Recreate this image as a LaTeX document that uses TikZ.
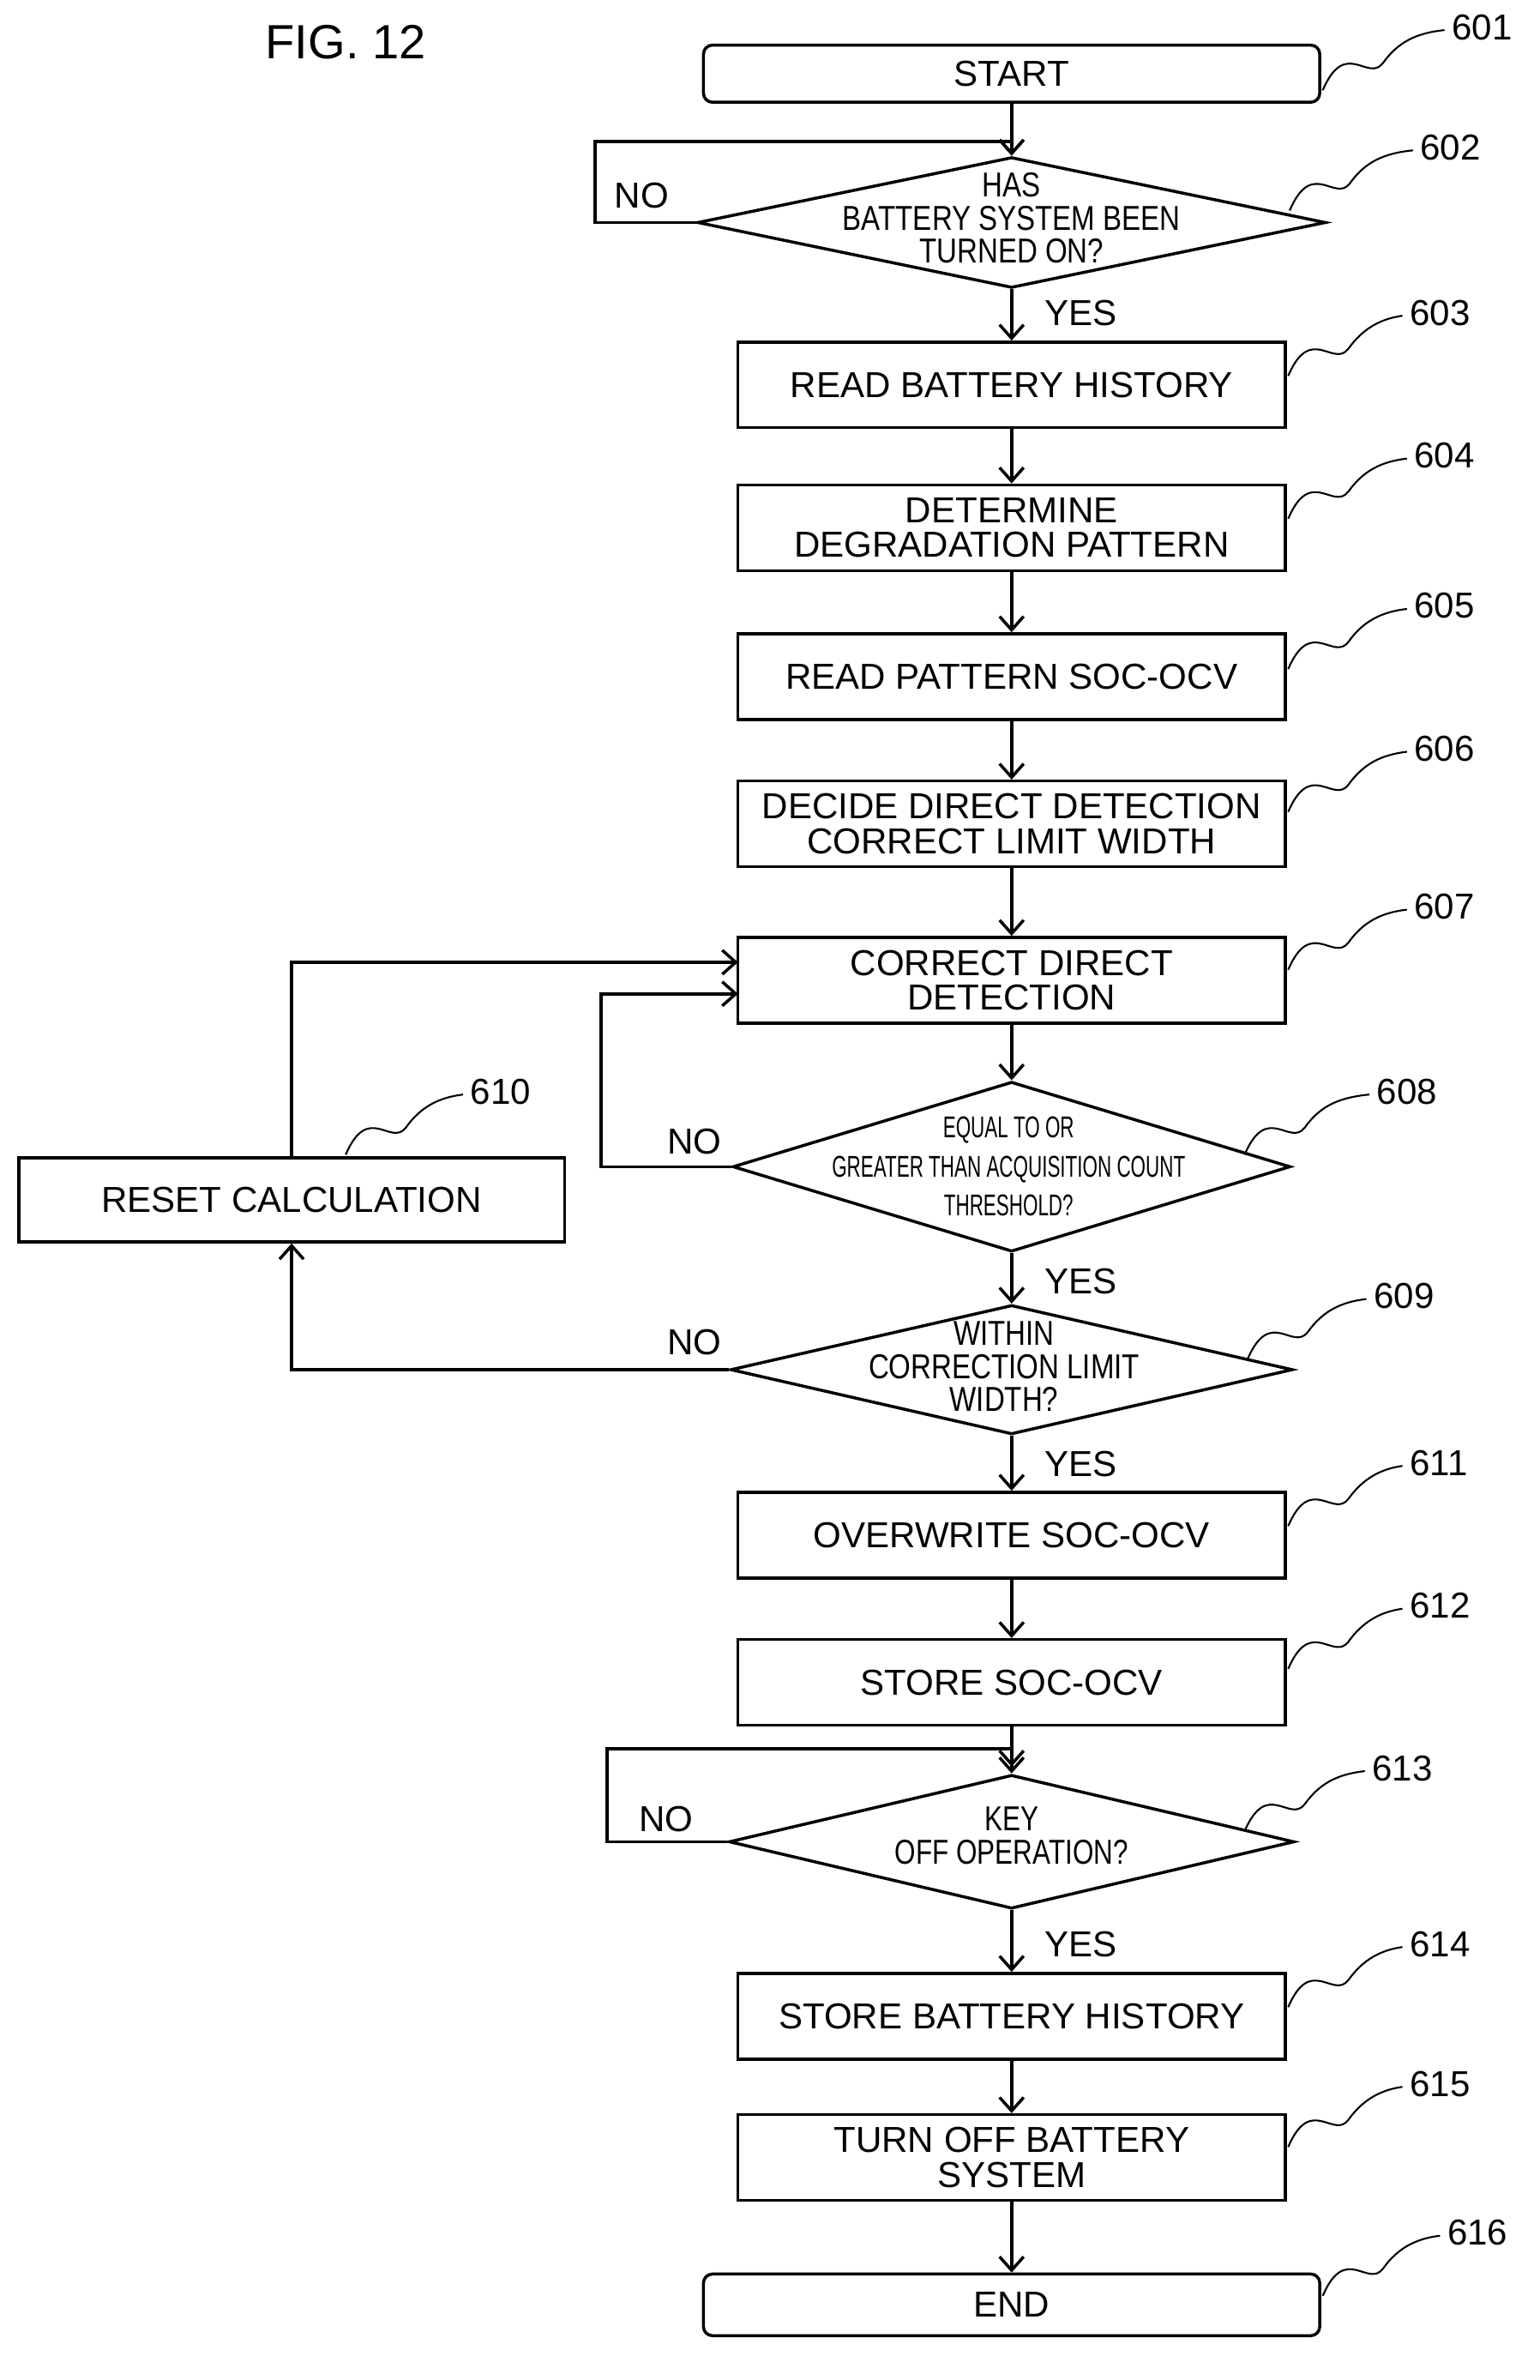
\documentclass[tikz,border=0pt]{standalone}
\usepackage{fontspec}
\setmainfont{Liberation Sans}
\usetikzlibrary{arrows.meta,shapes.geometric}
\begin{document}
\begin{tikzpicture}[x=1pt,y=-1pt,line width=2pt,
 box/.style={draw,minimum width=364,minimum height=57,align=center,font=\fontsize{24}{23}\selectfont,inner sep=0},
 term/.style={box,rounded corners=6,minimum width=410,minimum height=38},
 dia/.style={draw,diamond,inner sep=0},
 dt/.style={align=center,font=\fontsize{23}{22}\selectfont,xscale=0.82,inner sep=0},
 lab/.style={font=\fontsize{24}{24}\selectfont},
 arr/.style={-{Straight Barb[length=9pt,width=16pt]}},
 lead/.style={line width=1.2pt}]
\useasboundingbox (0,0) rectangle (1024,1583);
\node[font=\fontsize{32}{32}\selectfont] (fig) at (230,28) {FIG. 12};
\node[term] (s1) at (673,49) {START};
\node[dia,minimum width=418,minimum height=87] (s2) at (673,148) {};
\node[dt] (t2) at (673,145) {HAS\\BATTERY SYSTEM BEEN\\TURNED ON?};
\node[box] (s3) at (673,256) {READ BATTERY HISTORY};
\node[box] (s4) at (673,351) {DETERMINE\\DEGRADATION PATTERN};
\node[box] (s5) at (673,450) {READ PATTERN SOC-OCV};
\node[box] (s6) at (673,548) {DECIDE DIRECT DETECTION\\CORRECT LIMIT WIDTH};
\node[box] (s7) at (673,652) {CORRECT DIRECT\\DETECTION};
\node[dia,minimum width=371,minimum height=113] (s8) at (673,776) {};
\node[dt,font=\fontsize{20}{26}\selectfont,xscale=0.78] (t8) at (671,776) {EQUAL TO OR\\GREATER THAN ACQUISITION COUNT\\THRESHOLD?};
\node[dia,minimum width=374,minimum height=86] (s9) at (673,911) {};
\node[dt] (t9) at (668,909) {WITHIN\\CORRECTION LIMIT\\WIDTH?};
\node[box,minimum width=363,minimum height=56] (s10) at (194,798) {RESET CALCULATION};
\node[box] (s11) at (673,1021) {OVERWRITE SOC-OCV};
\node[box] (s12) at (673,1119) {STORE SOC-OCV};
\node[dia,minimum width=376,minimum height=89] (s13) at (673,1225) {};
\node[dt,xscale=0.95] (t13) at (673,1221) {KEY\\OFF OPERATION?};
\node[box] (s14) at (673,1341) {STORE BATTERY HISTORY};
\node[box] (s15) at (673,1435) {TURN OFF BATTERY\\SYSTEM};
\node[term,minimum height=41] (s16) at (673,1533) {END};
% main flow
\foreach \a/\b in {s1/s2,s2/s3,s3/s4,s4/s5,s5/s6,s6/s7,s7/s8,s8/s9,s9/s11,s11/s12,s12/s13,s13/s14,s14/s15,s15/s16}
 \draw[arr] (\a.south) -- (\b.north);
% loops
\coordinate (c2) at (673,94);
\draw[arr] (s2.west) -- (396,148) -- (396,94) -- (c2) -- (s2.north);
\draw[arr] (s8.west) -- (400,776) -- (400,661) -- (491,661);
\draw[arr] (s10.north) -- (194,640) -- (491,640);
\draw[arr] (s9.west) -- (194,911) -- (s10.south);
\coordinate (c13) at (673,1163);
\draw[arr] (s13.west) -- (404,1225) -- (404,1163) -- (c13) -- ++(0,12);
% labels
\node[lab] (n2) at (427,130) {NO};
\node[lab] (n8) at (462,759) {NO};
\node[lab] (n9) at (462,893) {NO};
\node[lab] (n13) at (443,1210) {NO};
\node[lab] (y2) at (719,208) {YES};
\node[lab] (y8) at (719,852) {YES};
\node[lab] (y9) at (719,974) {YES};
\node[lab] (y13) at (719,1293) {YES};
% leaders
\foreach \x/\y/\n/\m in {880/60/983/601,858/140/962/602,857/250/955/603,857/345/958/604,857/445/958/605,857/540/958/606,857/645/958/607,828/768/933/608,830/904/931/609,230/768/330/610,857/1015/955/611,857/1110/955/612,828/1218/930/613,857/1335/955/614,857/1428/955/615,880/1527/980/616}{
 \draw[lead] (\x,\y) .. controls (\x+15,\y-35) and (\x+30,\y-5) .. (\x+40,\y-18) .. controls (\x+50,\y-32) and (\x+62,\y-38) .. (\n-22,\y-40);
 \node[lab,anchor=west,inner sep=0] (l\m) at (\n-18,\y-42) {\m};
}
\end{tikzpicture}
\end{document}
